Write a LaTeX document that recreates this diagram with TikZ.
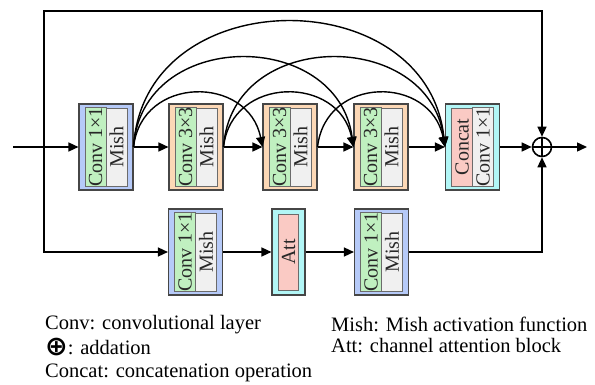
\documentclass[tikz,border=0pt]{standalone}
\usepackage{fontspec}
\setmainfont{Liberation Serif}
\newfontfamily\symfont{DejaVu Sans}
\usetikzlibrary{arrows.meta}
\definecolor{cblue}{RGB}{182,202,248}
\definecolor{corange}{RGB}{252,216,182}
\definecolor{ccyan}{RGB}{178,246,246}
\definecolor{cgreen}{RGB}{192,240,192}
\definecolor{cgray}{RGB}{240,240,240}
\definecolor{cpink}{RGB}{250,202,196}
\definecolor{cborder}{RGB}{70,70,70}
\definecolor{ctext}{RGB}{40,40,40}
\begin{document}
\begin{tikzpicture}[x=1pt,y=-1pt,
  outerbox/.style={draw=cborder, line width=1.1pt, minimum width=54pt, minimum height=86pt, inner sep=0pt},
  stripbox/.style={draw=cborder!80, line width=0.7pt, rotate=90, minimum width=78pt, minimum height=21pt, inner sep=0pt, text=ctext, font=\fontsize{20}{20}\selectfont},
  arr/.style={line width=1.4pt, -{Triangle[length=10pt,width=9pt]}},
  legend/.style={inner sep=0pt, anchor=base west, font=\fontsize{20.5}{24}\selectfont}]
\useasboundingbox (0,0) rectangle (595,385);
\fill[white] (0,0) rectangle (595,385);

% top row
\node[outerbox, fill=cblue] (b1) at (106,147) {};
\node[stripbox, fill=cgreen] (b1a) at (95.5,147) {Conv 1×1};
\node[stripbox, fill=cgray] (b1b) at (116.5,147) {Mish};

\node[outerbox, fill=corange] (b2) at (196,147) {};
\node[stripbox, fill=cgreen] (b2a) at (185.5,147) {Conv 3×3};
\node[stripbox, fill=cgray] (b2b) at (206.5,147) {Mish};

\node[outerbox, fill=corange] (b3) at (290,147) {};
\node[stripbox, fill=cgreen] (b3a) at (279.5,147) {Conv 3×3};
\node[stripbox, fill=cgray] (b3b) at (300.5,147) {Mish};

\node[outerbox, fill=corange] (b4) at (381,147) {};
\node[stripbox, fill=cgreen] (b4a) at (370.5,147) {Conv 3×3};
\node[stripbox, fill=cgray] (b4b) at (391.5,147) {Mish};

\node[outerbox, fill=ccyan] (cc) at (472.5,147) {};
\node[stripbox, fill=cpink] (cca) at (462,147) {Concat};
\node[stripbox, fill=cgray] (ccb) at (483,147) {Conv 1×1};

% bottom row
\node[outerbox, fill=cblue] (c1) at (195.5,252) {};
\node[stripbox, fill=cgreen] (c1a) at (185,252) {Conv 1×1};
\node[stripbox, fill=cgray] (c1b) at (206,252) {Mish};

\node[outerbox, fill=ccyan, minimum width=33pt] (att) at (288.5,252) {};
\node[stripbox, fill=cpink, minimum height=20pt, minimum width=76pt] (atta) at (288.5,252) {Att};

\node[outerbox, fill=cblue] (c3) at (381.5,252) {};
\node[stripbox, fill=cgreen] (c3a) at (371,252) {Conv 1×1};
\node[stripbox, fill=cgray] (c3b) at (392,252) {Mish};

% addition
\node[circle, draw, line width=1.6pt, minimum size=19pt, inner sep=0pt] (plus) at (542,147) {};
\draw[line width=1.6pt] (plus.north) -- (plus.south) (plus.west) -- (plus.east);

\coordinate (in) at (13,147);
\coordinate (tl) at (44,11);
\coordinate (out) at (587,147);

% main line
\draw[arr] (in) -- (b1.west);
\draw[arr] (b1.east) -- (b2.west);
\draw[arr] (b2.east) -- (b3.west);
\draw[arr] (b3.east) -- (b4.west);
\draw[arr] (b4.east) -- (cc.west);
\draw[arr] (cc.east) -- (plus.west);
\draw[arr] (plus.east) -- (out);

% shortcut paths
\draw[arr, line cap=rect] (tl) -| (plus.north);
\draw[arr, line cap=rect] (tl) |- (c1.west);
\draw[arr] (c1.east) -- (att.west);
\draw[arr] (att.east) -- (c3.west);
\draw[arr] (c3.east) -| (plus.south);

% dense arcs
\draw[arr] (b1.east) .. controls +(8,-72) and +(-14,-72) .. (b3.west);
\draw[arr] (b1.east) .. controls +(8,-119) and +(-16,-119) .. (b4.west);
\draw[arr] (b1.east) .. controls +(10,-167) and +(-18,-167) .. (cc.west);
\draw[arr] (b2.east) .. controls +(8,-72) and +(-14,-72) .. (b4.west);
\draw[arr] (b2.east) .. controls +(8,-119) and +(-16,-119) .. (cc.west);
\draw[arr] (b3.east) .. controls +(8,-72) and +(-14,-72) .. (cc.west);

% legend
\node[legend] (l1) at (45,329) {Conv: convolutional layer};
\node[legend] (l2) at (45,354) {\raisebox{-1pt}{\symfont\bfseries\fontsize{27}{27}\selectfont ⊕}: addation};
\node[legend] (l3) at (45,377) {Concat: concatenation operation};
\node[legend] (l4) at (331,331) {Mish: Mish activation function};
\node[legend] (l5) at (331,352) {Att: channel attention block};
\end{tikzpicture}
\end{document}
